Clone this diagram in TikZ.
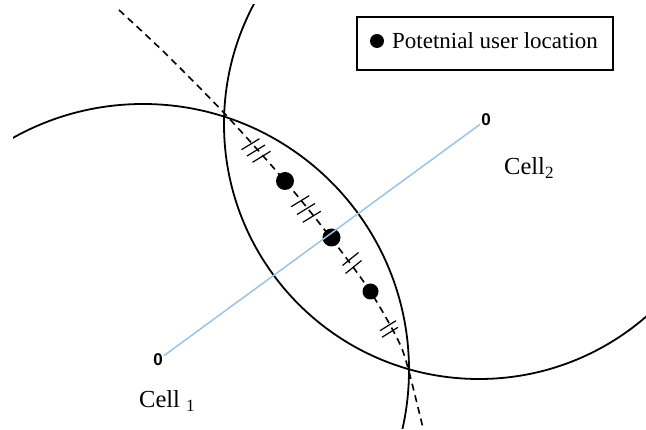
\documentclass[tikz,border=0pt]{standalone}
\usepackage{fontspec}
\setmainfont{Liberation Serif}
\newfontfamily\zerofont{Liberation Sans}
\definecolor{linkblue}{HTML}{9DC3E6}
\begin{document}
\begin{tikzpicture}[x=1pt,y=-1pt,
  circ/.style={line width=1.8pt, black},
  hyper/.style={line width=1.6pt, dash pattern=on 7pt off 5pt},
  udot/.style={circle, fill=black, inner sep=0pt, minimum size=18pt},
  tickln/.style={line width=1.2pt},
  cellmark/.style={font=\zerofont\bfseries\fontsize{17}{17}\selectfont, inner sep=1pt},
  lbl/.style={font=\fontsize{23}{27}\selectfont, inner sep=0pt, anchor=base west},
  celllbl/.style={font=\fontsize{24.5}{28}\selectfont, inner sep=0pt, anchor=base west},
  link/.style={line width=1.5pt, color=linkblue}]
\useasboundingbox (0,0) rectangle (646,430);
\fill[white] (0,0) rectangle (646,430);
\begin{scope}
  \clip (13,5) rectangle (646,429);
  \draw[circ] (143,370) circle[radius=266pt];
  \draw[circ] (479,124) circle[radius=255pt];
  \draw[hyper] plot[smooth] coordinates {(119,10) (167,55) (225,114) (285,181) (331,238) (370,291) (398,340) (408,368) (423,428)};
\end{scope}
% hash marks
\foreach \k in {-1,0,1} \draw[tickln, shift={(256+5.5*\k,150.5+6.3*\k)}] (-9,5.5) -- (9,-5.5);
\foreach \k in {-1,0,1} \draw[tickln, shift={(306+5.8*\k,209+7.8*\k)}] (-9,5.5) -- (9,-5.5);
\foreach \k in {-0.5,0.5} \draw[tickln, shift={(352+3*\k,263+8*\k)}] (-8,6.5) -- (8,-6.5);
\foreach \k in {-0.5,0.5} \draw[tickln, shift={(389+2*\k,329+6.6*\k)}] (-8,5) -- (8,-5);
% user locations
\node[udot] (u1) at (285,181) {};
\node[udot] (u2) at (331.5,237.5) {};
\node[udot, minimum size=16pt] (u3) at (370.5,291.5) {};
% cells
\node[cellmark] (c1) at (158,360) {0};
\node[cellmark] (c2) at (486,120) {0};
\draw[link] (c1) -- (c2);
\node[celllbl] (l1) at (139,408) {Cell \textsubscript{1}};
\node[celllbl] (l2) at (504,175) {Cell\textsubscript{2}};
% legend
\node[draw, line width=1.4pt, minimum width=256pt, minimum height=53pt, inner sep=0pt] (legend) at (485,43.5) {};
\node[udot, minimum size=14pt] (ldot) at (377,41) {};
\node[lbl] (ltext) at (392,48.3) {Potetnial user location};
\end{tikzpicture}
\end{document}
